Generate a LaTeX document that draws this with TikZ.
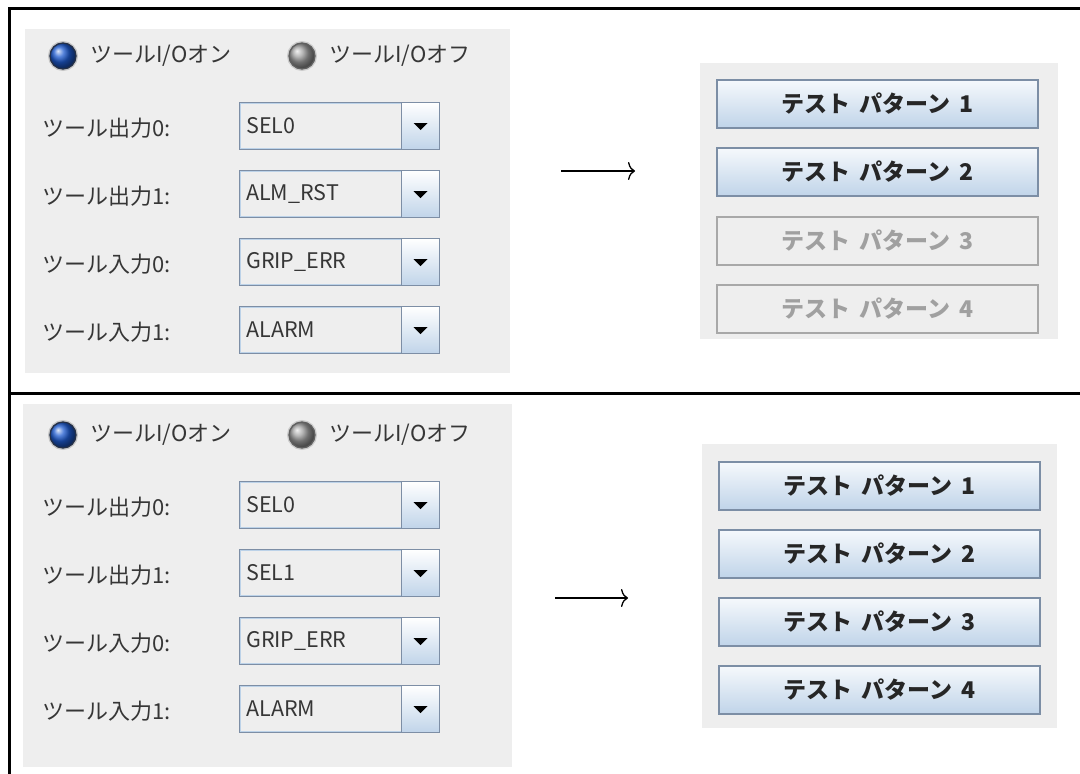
\documentclass[tikz,border=0pt]{standalone}
\usepackage{fontspec}
\setmainfont{Noto Sans CJK JP}
\usetikzlibrary{arrows.meta,calc}
\definecolor{panelbg}{HTML}{EEEEEE}
\definecolor{labeltext}{HTML}{363636}
\definecolor{comboborder}{HTML}{7D8EA5}
\definecolor{comboinner}{HTML}{BCD2E8}
\definecolor{btntop}{HTML}{F6F9FC}
\definecolor{btnbot}{HTML}{C0D4E9}
\definecolor{btnborder}{HTML}{7C8EA5}
\definecolor{disborder}{HTML}{A8A8A8}
\definecolor{distext}{HTML}{A0A0A0}
\definecolor{radioblue}{HTML}{1E5BD0}
\definecolor{radioring}{HTML}{243048}
\newcommand\btnlabel[1]{テスト\hspace{9pt}パターン\hspace{9pt}#1}
\tikzset{
  panel/.style={fill=panelbg, draw=none},
  frameline/.style={line width=3pt, black},
  lbl/.style={anchor=west, inner sep=0pt, text=labeltext, font=\fontsize{22}{22}\selectfont},
  combobox/.style={draw=comboborder, line width=1.2pt, fill=panelbg, anchor=north west,
    minimum width=200pt, minimum height=47pt, inner sep=0pt},
  comboinner/.style={draw=comboinner, line width=1pt},
  combobtn/.style={draw=comboborder, line width=1.2pt, top color=white, bottom color=btnbot,
    anchor=north east, minimum width=38pt, minimum height=47pt, inner sep=0pt},
  combotext/.style={anchor=west, inner sep=0pt, text=labeltext, font=\fontsize{21.5}{21.5}\selectfont},
  radiotext/.style={anchor=west, inner sep=0pt, text=labeltext, font=\fontsize{22}{22}\selectfont},
  radioon/.style={circle, minimum size=26pt, inner sep=0pt, preaction={draw=gray!45, line width=4pt},
    ball color=radioblue, draw=radioring, line width=1.3pt},
  radiooff/.style={circle, minimum size=26pt, inner sep=0pt, preaction={draw=gray!40, line width=4pt},
    ball color=gray!75, draw=gray!75!black, line width=1.3pt},
  btn/.style={anchor=north west, minimum width=321pt, minimum height=48pt, inner sep=0pt,
    draw=btnborder, line width=1.5pt, top color=btntop, bottom color=btnbot,
    text=black!85, font=\fontsize{23}{23}\selectfont\bfseries},
  disbtn/.style={anchor=north west, minimum width=321pt, minimum height=48pt, inner sep=0pt,
    draw=disborder, line width=1.5pt, fill=panelbg,
    text=distext, font=\fontsize{23}{23}\selectfont\bfseries},
  uiarrow/.style={line width=1.3pt, black, -{To[length=7pt,width=18pt]}}
}
\newcommand\uicombo[4]{%
  \node[combobox] (#1) at (#2,#3) {};
  \draw[comboinner] ($(#1.north west)+(1.8,1.8)$) rectangle ($(#1.south east)+(-1.8,-1.8)$);
  \node[combobtn] (#1b) at (#1.north east) {};
  \node[combotext] (#1t) at ($(#1.west)+(7,0)$) {#4};
  \fill[black] ($(#1b.center)+(-7,-3)$) -- ($(#1b.center)+(7,-3)$) -- ($(#1b.center)+(0,4)$) -- cycle;
}
\begin{document}
\begin{tikzpicture}[x=1pt,y=-1pt]
\useasboundingbox (0,0) rectangle (1080,774);
\fill[white] (0,0) rectangle (1080,774);

% ---------- frame ----------
\coordinate (ftl) at (9,8);
\coordinate (ftr) at (1080,8);
\coordinate (fml) at (9,393.5);
\coordinate (fmr) at (1080,393.5);
\coordinate (fbl) at (9,774);
\draw[frameline] (ftr) -- (ftl) -- (fbl);
\draw[frameline] (fml) -- (fmr);

% ---------- top panels ----------
\fill[panel] (25,29) rectangle (510,373);
\fill[panel] (700,63) rectangle (1058,339);

\node[radioon] (ron1) at (63,56) {};
\node[radiotext] (ront1) at (90,56) {ツールI/Oオン};
\node[radiooff] (roff1) at (302,56) {};
\node[radiotext] (rofft1) at (329,56) {ツールI/Oオフ};

\node[lbl] (l11) at (42,128) {ツール出力0:};
\node[lbl] (l12) at (42,196) {ツール出力1:};
\node[lbl] (l13) at (42,264) {ツール入力0:};
\node[lbl] (l14) at (42,332) {ツール入力1:};

\uicombo{c11}{239}{102}{SEL0}
\uicombo{c12}{239}{170}{ALM\_RST}
\uicombo{c13}{239}{238}{GRIP\_ERR}
\uicombo{c14}{239}{306}{ALARM}

\coordinate (a1s) at (561,171);
\coordinate (a1e) at (635,171);
\draw[uiarrow] (a1s) -- (a1e);

\node[btn] (b11) at (716,79) {\btnlabel{1}};
\node[btn] (b12) at (716,147) {\btnlabel{2}};
\node[disbtn] (b13) at (716,216) {\btnlabel{3}};
\node[disbtn] (b14) at (716,284) {\btnlabel{4}};

% ---------- bottom panels ----------
\fill[panel] (23,404) rectangle (512,767);
\fill[panel] (702,444) rectangle (1057,728);

\node[radioon] (ron2) at (63,435) {};
\node[radiotext] (ront2) at (90,435) {ツールI/Oオン};
\node[radiooff] (roff2) at (302,435) {};
\node[radiotext] (rofft2) at (329,435) {ツールI/Oオフ};

\node[lbl] (l21) at (42,507) {ツール出力0:};
\node[lbl] (l22) at (42,575) {ツール出力1:};
\node[lbl] (l23) at (42,643) {ツール入力0:};
\node[lbl] (l24) at (42,711) {ツール入力1:};

\uicombo{c21}{239}{481}{SEL0}
\uicombo{c22}{239}{549}{SEL1}
\uicombo{c23}{239}{617}{GRIP\_ERR}
\uicombo{c24}{239}{685}{ALARM}

\coordinate (a2s) at (555,598);
\coordinate (a2e) at (628,598);
\draw[uiarrow] (a2s) -- (a2e);

\node[btn] (b21) at (718,461) {\btnlabel{1}};
\node[btn] (b22) at (718,529) {\btnlabel{2}};
\node[btn] (b23) at (718,597) {\btnlabel{3}};
\node[btn] (b24) at (718,665) {\btnlabel{4}};
\end{tikzpicture}
\end{document}
